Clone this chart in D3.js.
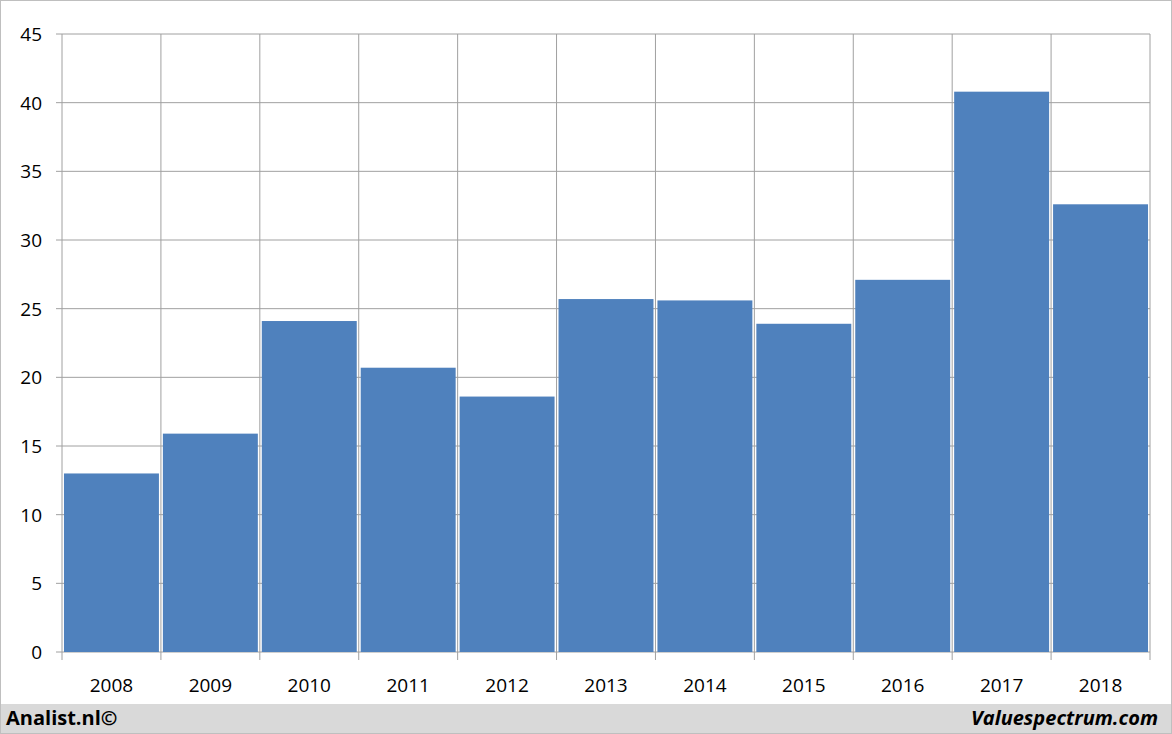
<!DOCTYPE html>
<html><head><meta charset="utf-8">
<script src="https://cdn.jsdelivr.net/npm/d3@7"></script>
<style>body{margin:0;background:#fff}svg{display:block}</style>
</head><body>
<svg id="c" width="1172" height="734"></svg>
<script>
const years = ["2008","2009","2010","2011","2012","2013","2014","2015","2016","2017","2018"];
const values = [13.0,15.9,24.1,20.7,18.6,25.7,25.6,23.9,27.1,40.8,32.6];
const yTicks = [0,5,10,15,20,25,30,35,40,45];

const svg = d3.select("#c");
const W=1172,H=734, L=62, R=1150, T=34, B=652;
svg.append("rect").attr("x",0.5).attr("y",0.5).attr("width",W-1).attr("height",H-1).attr("fill","#fff").attr("stroke","#bfbfbf");
svg.append("rect").attr("x",1).attr("y",704).attr("width",W-2).attr("height",29).attr("fill","#d9d9d9");

const x = d3.scaleBand().domain(years).range([L,R]).paddingInner(0.04).paddingOuter(0.02);
const xg = d3.scaleBand().domain(years).range([L,R]);
const y = d3.scaleLinear().domain([0,45]).range([B,T]);

const g = svg.append("g");
// horizontal grid
g.selectAll(".h").data(yTicks).join("line").attr("x1",L).attr("x2",R)
 .attr("y1",d=>y(d)).attr("y2",d=>y(d)).attr("stroke","#a0a0a0").attr("stroke-width",1);
// vertical grid
const vx = years.map(d=>xg(d)).concat([R]);
g.selectAll(".v").data(vx).join("line").attr("x1",d=>d).attr("x2",d=>d)
 .attr("y1",T).attr("y2",B+8).attr("stroke","#a0a0a0").attr("stroke-width",1);
// y tick marks
g.selectAll(".yt").data(yTicks).join("line").attr("x1",L-6).attr("x2",L)
 .attr("y1",d=>y(d)).attr("y2",d=>y(d)).attr("stroke","#a0a0a0");

// bars
g.selectAll(".b").data(values).join("rect")
 .attr("x",(d,i)=>x(years[i])).attr("width",x.bandwidth())
 .attr("y",d=>y(d)).attr("height",d=>B-y(d)).attr("fill","#4f81bd");

// labels
const font="'Open Sans', 'Liberation Sans', sans-serif";
g.selectAll(".yl").data(yTicks).join("text").attr("x",L-20).attr("y",d=>y(d)+7)
 .attr("text-anchor","end").attr("font-family",font).attr("font-size",19).attr("fill","#000").text(d=>d);
g.selectAll(".xl").data(years).join("text").attr("x",d=>xg(d)+xg.bandwidth()/2).attr("y",692)
 .attr("text-anchor","middle").attr("font-family",font).attr("font-size",19).attr("fill","#000").text(d=>d);

svg.append("text").attr("x",6).attr("y",725).attr("font-family",font).attr("font-weight","bold")
 .attr("font-size",20).text("Analist.nl©");
svg.append("text").attr("x",1158).attr("y",725).attr("text-anchor","end").attr("font-family",font)
 .attr("font-weight","bold").attr("font-style","italic").attr("font-size",20).text("Valuespectrum.com");
</script>
</body></html>
